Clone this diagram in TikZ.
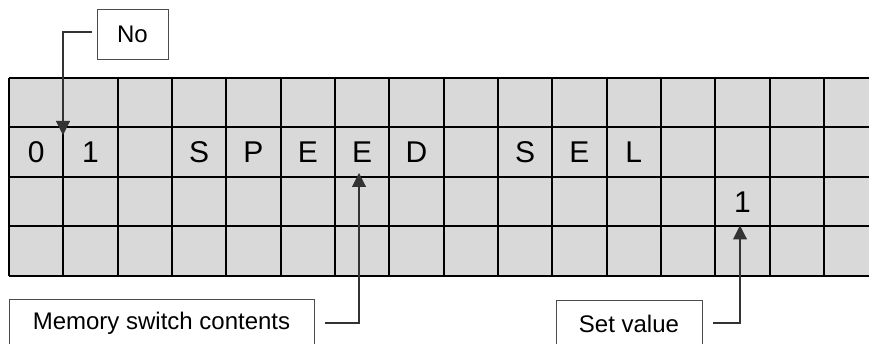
\documentclass[tikz,border=0pt]{standalone}
\usepackage{fontspec}
\setmainfont{Liberation Sans}
\usetikzlibrary{arrows.meta,calc}

\begin{document}
\begin{tikzpicture}[
  x=1pt, y=-1pt,
  lcd/.style={draw=black, line width=2pt},
  cell/.style={font=\fontsize{30}{36}\selectfont, inner sep=0pt, anchor=base},
  callout/.style={draw=black!70, line width=0.9pt, fill=white, minimum height=48pt,
                  inner xsep=0pt, font=\fontsize{24}{29}\selectfont},
  lead/.style={draw=black!80, line width=1.1pt, -{Triangle[width=14pt,length=14pt]}}
]
\clip (0,0) rectangle (869,344);

% ---- display panel
\fill[black!15] (9,78) rectangle (900,276);
\foreach \i in {0,...,16} \draw[lcd] ({9+54.33*\i},78) -- ({9+54.33*\i},276);
\foreach \y in {78,127.5,177,226.5,276} \draw[lcd] (9,\y) -- (900,\y);

% ---- characters
\foreach \ch/\col in {0/0,1/1,S/3,P/4,E/5,E/6,D/7,S/9,E/10,L/11}
  \node[cell] (ra\col) at ({9+54.33*(\col+0.5)},162.5) {\ch};
\node[cell] (rb13) at ({9+54.33*13.5},212.5) {1};

% ---- callouts
\node[callout, minimum width=71pt, minimum height=50pt] (no) at (132.5,34) {No};
\node[callout, minimum width=305pt] (memo) at (161.5,323) {Memory switch contents};
\node[callout, minimum width=146pt] (setv) at (629,324) {Set value};

\coordinate (noTip) at (63,135);
\coordinate (memoTip) at (359,173);
\coordinate (setTip) at (740,225.5);

\draw[lead, shorten <=5pt] ([yshift=2pt]no.west) -| (noTip);
\draw[lead, shorten <=11pt] (memo.east) -| (memoTip);
\draw[lead, shorten <=11pt] ([yshift=1pt]setv.east) -| (setTip);
\end{tikzpicture}
\end{document}
